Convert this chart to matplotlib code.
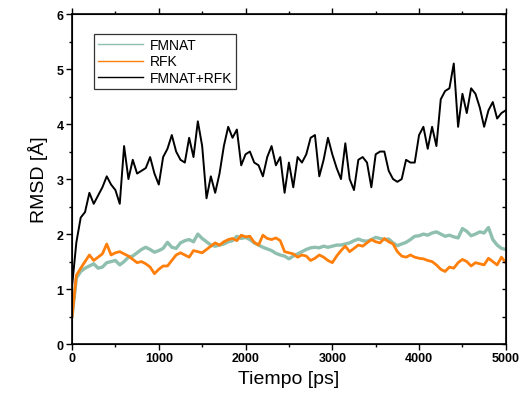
import matplotlib
matplotlib.use("Agg")
import matplotlib.pyplot as plt
from matplotlib.ticker import MultipleLocator

plt.rcParams['font.family'] = ['Liberation Sans', 'DejaVu Sans']

# sampling times (ps), one reading every 50 ps
tiempo = list(range(0, 5001, 50))

fmnat = [0.50, 1.20, 1.32, 1.38, 1.42, 1.46, 1.38, 1.40, 1.48, 1.50,
         1.52, 1.44, 1.50, 1.58, 1.60, 1.66, 1.72, 1.76, 1.72, 1.67,
         1.70, 1.74, 1.85, 1.76, 1.74, 1.84, 1.88, 1.90, 1.86, 2.00,
         1.92, 1.86, 1.80, 1.78, 1.80, 1.82, 1.86, 1.88, 1.96, 1.92,
         1.94, 1.90, 1.84, 1.80, 1.76, 1.73, 1.70, 1.65, 1.62, 1.60,
         1.55, 1.60, 1.64, 1.68, 1.72, 1.75, 1.76, 1.75, 1.78, 1.76,
         1.78, 1.80, 1.80, 1.82, 1.84, 1.88, 1.91, 1.88, 1.87, 1.90,
         1.94, 1.92, 1.90, 1.91, 1.84, 1.79, 1.82, 1.85, 1.90, 1.96,
         1.97, 2.00, 1.98, 2.02, 2.04, 2.00, 1.96, 1.98, 1.95, 1.93,
         2.10, 2.05, 1.97, 2.00, 2.04, 2.02, 2.12, 1.90, 1.80, 1.74,
         1.72]

rfk = [0.50, 1.25, 1.38, 1.50, 1.62, 1.52, 1.58, 1.64, 1.82, 1.62,
       1.66, 1.68, 1.64, 1.60, 1.54, 1.48, 1.50, 1.46, 1.40, 1.28,
       1.36, 1.42, 1.42, 1.52, 1.62, 1.66, 1.62, 1.58, 1.70, 1.68,
       1.66, 1.72, 1.78, 1.84, 1.80, 1.86, 1.90, 1.92, 1.88, 1.98,
       1.95, 1.96, 1.85, 1.80, 1.98, 1.92, 1.90, 1.93, 1.88, 1.68,
       1.66, 1.64, 1.58, 1.62, 1.60, 1.52, 1.56, 1.62, 1.58, 1.52,
       1.48, 1.60, 1.70, 1.78, 1.68, 1.74, 1.80, 1.78, 1.84, 1.90,
       1.86, 1.84, 1.92, 1.86, 1.82, 1.68, 1.60, 1.58, 1.62, 1.58,
       1.56, 1.55, 1.52, 1.50, 1.44, 1.36, 1.32, 1.40, 1.38, 1.48,
       1.54, 1.50, 1.42, 1.48, 1.46, 1.44, 1.56, 1.50, 1.44, 1.58,
       1.48]

fmnat_rfk = [1.05, 1.85, 2.30, 2.40, 2.75, 2.55, 2.70, 2.85, 3.05, 2.90,
             2.80, 2.55, 3.60, 3.00, 3.35, 3.10, 3.15, 3.20, 3.40, 3.10,
             2.90, 3.40, 3.55, 3.80, 3.50, 3.35, 3.30, 3.75, 3.40, 4.05,
             3.60, 2.65, 3.05, 2.75, 3.10, 3.60, 3.95, 3.75, 3.90, 3.25,
             3.45, 3.50, 3.30, 3.25, 3.05, 3.40, 3.60, 3.25, 3.40, 2.75,
             3.30, 2.85, 3.40, 3.30, 3.45, 3.75, 3.80, 3.05, 3.35, 3.75,
             3.45, 3.20, 3.00, 3.65, 3.00, 2.80, 3.35, 3.40, 3.30, 2.85,
             3.45, 3.50, 3.50, 3.15, 3.00, 2.95, 3.00, 3.35, 3.30, 3.30,
             3.80, 3.95, 3.55, 3.95, 3.60, 4.45, 4.60, 4.65, 5.10, 3.95,
             4.55, 4.20, 4.65, 4.55, 4.30, 3.95, 4.25, 4.40, 4.10, 4.20,
             4.25]

fig = plt.figure(figsize=(5.22, 4.06), dpi=100)
ax = fig.add_axes([0.138, 0.150, 0.831, 0.813])

# thicker lines stand in for the dense noisy trajectories
ax.plot(tiempo, fmnat, color='#8fbfae', lw=2.4, label='FMNAT')
ax.plot(tiempo, rfk, color='#ff7f0a', lw=2.0, label='RFK')
ax.plot(tiempo, fmnat_rfk, color='black', lw=1.4, label='FMNAT+RFK')

ax.set_xlim(0, 5000)
ax.set_ylim(0, 6)
ax.xaxis.set_major_locator(MultipleLocator(1000))
ax.xaxis.set_minor_locator(MultipleLocator(500))
ax.yaxis.set_major_locator(MultipleLocator(1))
ax.yaxis.set_minor_locator(MultipleLocator(0.5))
ax.tick_params(which='major', direction='out', length=4, width=1, labelsize=9, pad=2)
ax.tick_params(which='minor', direction='out', length=2.5, width=1)
ax.tick_params(axis='x', which='both', top=True)
for lab in ax.get_xticklabels() + ax.get_yticklabels():
    lab.set_fontweight('bold')

# right side ticks point inwards
ax2 = ax.twinx()
ax2.set_ylim(0, 6)
ax2.yaxis.set_major_locator(MultipleLocator(0.5))
ax2.tick_params(axis='y', direction='in', length=3, width=1, labelright=False)

for sp in ax.spines.values():
    sp.set_linewidth(1.2)

ax.set_xlabel('Tiempo [ps]', fontsize=14, labelpad=4)
ax.set_ylabel('RMSD [Å]', fontsize=14, labelpad=6)

leg = ax.legend(loc='upper left', bbox_to_anchor=(0.035, 0.96), fontsize=10,
                frameon=True, fancybox=False, edgecolor='black',
                handlelength=3.2, handletextpad=0.5, borderpad=0.3,
                labelspacing=0.15)
leg.get_frame().set_linewidth(0.9)
for h in leg.get_lines():
    h.set_linewidth(1.0)

fig.savefig('out.png', dpi=100)
